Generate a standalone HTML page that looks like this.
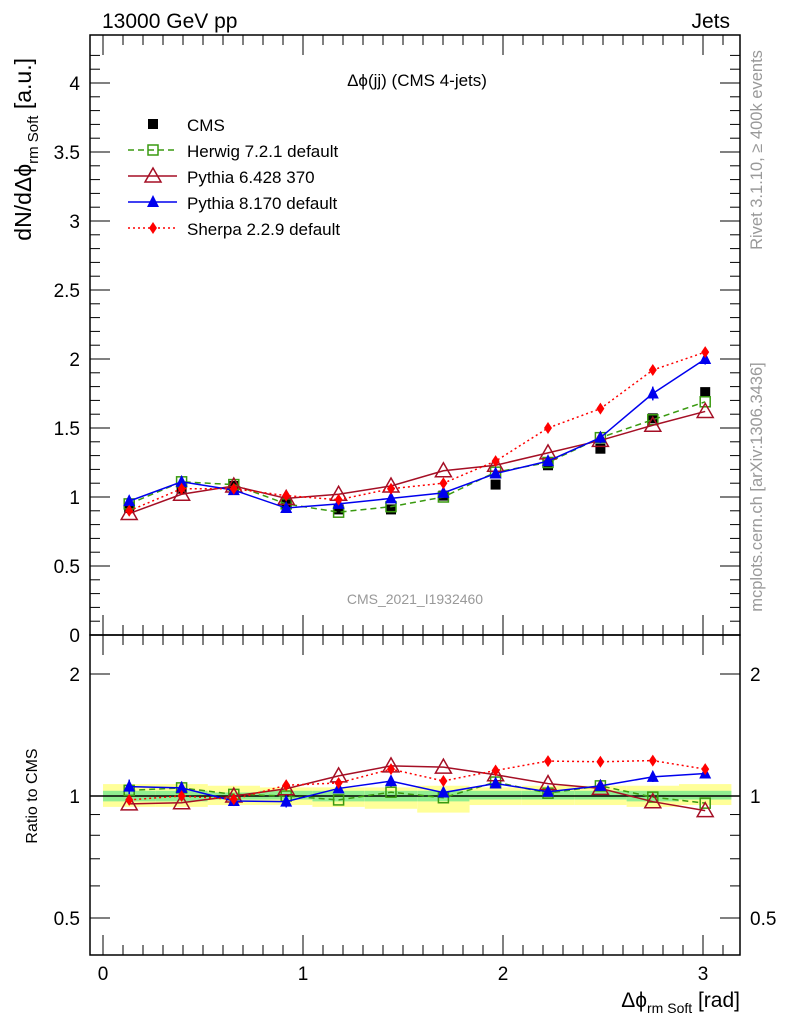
<!DOCTYPE html>
<html><head><meta charset="utf-8"><style>
body{margin:0;background:#fff;}
svg{display:block;font-family:"Liberation Sans",sans-serif;}
</style></head><body>
<svg id="c" width="786" height="1024" xmlns="http://www.w3.org/2000/svg"></svg>
<script>
const categories=[0.131,0.393,0.654,0.916,1.178,1.440,1.702,1.963,2.225,2.487,2.749,3.011];
const cmsValues=[0.92,1.06,1.08,0.95,0.91,0.91,1.01,1.09,1.23,1.35,1.57,1.76];
const cmsErrors=[0.02,0.02,0.02,0.02,0.02,0.02,0.02,0.02,0.02,0.02,0.02,0.03];
const herwigValues=[0.95,1.11,1.09,0.95,0.89,0.93,1.00,1.18,1.25,1.43,1.56,1.69];
const pythia6Values=[0.88,1.02,1.08,0.99,1.02,1.08,1.19,1.23,1.32,1.41,1.52,1.62];
const pythia8Values=[0.97,1.11,1.05,0.92,0.95,0.99,1.03,1.17,1.26,1.43,1.75,2.00];
const pythia8Errors=[0.04,0.04,0.03,0.03,0.02,0.03,0.02,0.03,0.03,0.04,0.05,0.04];
const sherpaValues=[0.90,1.06,1.06,1.01,0.98,1.06,1.10,1.26,1.50,1.64,1.92,2.05];
const bandYellowLo=[0.94,0.94,0.95,0.95,0.94,0.93,0.91,0.95,0.95,0.95,0.94,0.95];
const bandYellowHi=[1.07,1.07,1.06,1.05,1.05,1.05,1.06,1.05,1.06,1.06,1.06,1.07];
const bandGreenLo=[0.97,0.97,0.98,0.98,0.97,0.97,0.97,0.98,0.98,0.98,0.97,0.98];
const bandGreenHi=[1.03,1.03,1.02,1.03,1.03,1.03,1.03,1.03,1.03,1.03,1.03,1.03];
const mainYTicks=[0,0.5,1,1.5,2,2.5,3,3.5,4];
const ratioYTicks=[0.5,1,2];
const xTicks=[0,1,2,3];

const NS="http://www.w3.org/2000/svg";
const svg=document.getElementById('c');
const L=90,R=740,MT=35,MB=635,RB=955;
const xs=v=>103+200*v;
const ym=v=>635-138*v;
const yr=v=>796-122*Math.log2(v);
function el(tag,attrs,parent){const e=document.createElementNS(NS,tag);for(const k in attrs)e.setAttribute(k,attrs[k]);(parent||svg).appendChild(e);return e;}
function txt(s,x,y,size,anchor,fill,parent){const t=el('text',{x:x,y:y,'font-size':size,'text-anchor':anchor||'start',fill:fill||'#000'},parent);t.textContent=s;return t;}

const gb=el('g',{});


const bw=Math.PI/12;
categories.forEach((c,i)=>{
 const x0=xs(c-bw/2),x1=xs(c+bw/2);
 const r1=el('rect',{x:x0,y:yr(bandYellowHi[i]),width:x1-x0,height:yr(bandYellowLo[i])-yr(bandYellowHi[i]),fill:'#ffff99'},gb);
 
 
 const r2=el('rect',{x:x0,y:yr(bandGreenHi[i]),width:x1-x0,height:yr(bandGreenLo[i])-yr(bandGreenHi[i]),fill:'#90ee90'},gb);
 
 
});
el('line',{x1:L,x2:R,y1:yr(1),y2:yr(1),stroke:'#000','stroke-width':1.5});

el('rect',{x:L,y:MT,width:R-L,height:MB-MT,fill:'none',stroke:'#000','stroke-width':1.5});
el('rect',{x:L,y:MB,width:R-L,height:RB-MB,fill:'none',stroke:'#000','stroke-width':1.5});

for(let v=0;v<=4.3;v+=0.1){const y=ym(v);if(y<MT)break;const maj=Math.abs(v*2-Math.round(v*2))<1e-6;const l=maj?20:10;
 el('line',{x1:L,x2:L+l,y1:y,y2:y,stroke:'#000'});el('line',{x1:R,x2:R-l,y1:y,y2:y,stroke:'#000'});}
mainYTicks.forEach(v=>{const t=txt(String(v),80,ym(v)+7,19,'end');});
[0.5,0.6,0.7,0.8,0.9,1,2].forEach(v=>{const y=yr(v);const maj=(v==0.5||v==1||v==2);const l=maj?20:10;
 el('line',{x1:L,x2:L+l,y1:y,y2:y,stroke:'#000'});el('line',{x1:R,x2:R-l,y1:y,y2:y,stroke:'#000'});});
ratioYTicks.forEach(v=>{const t1=txt(String(v),80,yr(v)+7,19,'end');txt(String(v),750,yr(v)+7,19,'start');});
for(let v=0;v<=3.15;v+=0.1){const x=xs(v);const maj=Math.abs(v-Math.round(v))<1e-6;const l=maj?20:10;
 [MT,MB].forEach(y=>el('line',{x1:x,x2:x,y1:y,y2:y+l,stroke:'#000'}));
 [MB,RB].forEach(y=>el('line',{x1:x,x2:x,y1:y,y2:y-l,stroke:'#000'}));}
xTicks.forEach(v=>{const t=txt(String(v),xs(v),980,19,'middle');});

txt('13000 GeV pp',102,28,21);
txt('Jets',730,28,21,'end');
txt('Δϕ(jj) (CMS 4-jets)',417,86,17,'middle');
txt('CMS_2021_I1932460',415,604,14,'middle','#999');
const yl=el('text',{transform:'translate(31,58) rotate(-90)','font-size':23,'text-anchor':'end'});
yl.innerHTML='dN/dΔϕ<tspan dy="7" font-size="15">rm Soft</tspan><tspan dy="-7">  [a.u.]</tspan>';

const rl=el('text',{transform:'translate(37,796) rotate(-90)','font-size':16,'text-anchor':'middle'});
rl.textContent='Ratio to CMS';
const xl=el('text',{x:740,y:1007,'font-size':21,'text-anchor':'end'});
xl.innerHTML='Δϕ<tspan dy="6" font-size="14">rm Soft</tspan><tspan dy="-6"> [rad]</tspan>';

const rv=el('text',{transform:'translate(762,150) rotate(-90)','font-size':16.5,'text-anchor':'middle',fill:'#999'});
rv.textContent='Rivet 3.1.10, ≥ 400k events';
const mc=el('text',{transform:'translate(762,487) rotate(-90)','font-size':16.5,'text-anchor':'middle',fill:'#999'});
mc.textContent='mcplots.cern.ch [arXiv:1306.3436]';

function marker(type,x,y,color,g){
 if(type=='sq')el('rect',{x:x-5,y:y-5,width:10,height:10,fill:color},g);
 if(type=='osq')el('rect',{x:x-5,y:y-5,width:10,height:10,fill:'none',stroke:color,'stroke-width':1.5},g);
 if(type=='otri')el('polygon',{points:`${x},${y-8} ${x-8},${y+6} ${x+8},${y+6}`,fill:'none',stroke:color,'stroke-width':1.5},g);
 if(type=='tri')el('polygon',{points:`${x},${y-7} ${x-6},${y+5} ${x+6},${y+5}`,fill:color},g);
 if(type=='dia')el('polygon',{points:`${x},${y-6} ${x+4},${y} ${x},${y+6} ${x-4},${y}`,fill:color},g);
}
const series=[
 {name:'herwig',vals:herwigValues,color:'#3a9a10',dash:'6,4',m:'osq',lab:'Herwig 7.2.1 default'},
 {name:'pythia6',vals:pythia6Values,color:'#a50f25',dash:'',m:'otri',lab:'Pythia 6.428 370'},
 {name:'pythia8',vals:pythia8Values,color:'#0000ee',dash:'',m:'tri',lab:'Pythia 8.170 default',err:pythia8Errors},
 {name:'sherpa',vals:sherpaValues,color:'#ff0000',dash:'2,3',m:'dia',lab:'Sherpa 2.2.9 default'}];

const gc=el('g',{});
categories.forEach((c,i)=>{el('line',{x1:xs(c),x2:xs(c),y1:ym(cmsValues[i]-cmsErrors[i]),y2:ym(cmsValues[i]+cmsErrors[i]),stroke:'#000'},gc);marker('sq',xs(c),ym(cmsValues[i]),'#000',gc);});

series.forEach(s=>{
 const g=el('g',{});
 el('polyline',{points:categories.map((c,i)=>xs(c)+','+ym(s.vals[i])).join(' '),fill:'none',stroke:s.color,'stroke-width':1.5,'stroke-dasharray':s.dash},g);
 const rg=el('g',{});
 el('polyline',{points:categories.map((c,i)=>xs(c)+','+yr(s.vals[i]/cmsValues[i])).join(' '),fill:'none',stroke:s.color,'stroke-width':1.5,'stroke-dasharray':s.dash},rg);
 categories.forEach((c,i)=>{
  if(s.err){el('line',{x1:xs(c),x2:xs(c),y1:ym(s.vals[i]-s.err[i]),y2:ym(s.vals[i]+s.err[i]),stroke:s.color,'stroke-width':1.5},g);
   const r=s.vals[i]/cmsValues[i],e=s.err[i]/cmsValues[i];
   el('line',{x1:xs(c),x2:xs(c),y1:yr(r-e),y2:yr(r+e),stroke:s.color,'stroke-width':1.5},rg);}
  marker(s.m,xs(c),ym(s.vals[i]),s.color,g);
  marker(s.m,xs(c),yr(s.vals[i]/cmsValues[i]),s.color,rg);
 });
});

const lg=el('g',{});
const le0=el('g',{},lg);
marker('sq',153,124,'#000',le0);txt('CMS',187,131,17,'start','#000',le0);
series.forEach((s,k)=>{const y=150+k*26;
 const le=el('g',{},lg);
 el('line',{x1:128,x2:177,y1:y,y2:y,stroke:s.color,'stroke-width':1.5,'stroke-dasharray':s.dash},le);
 marker(s.m,153,y,s.color,le);txt(s.lab,187,y+7,17,'start','#000',le);});
</script>
</body></html>
